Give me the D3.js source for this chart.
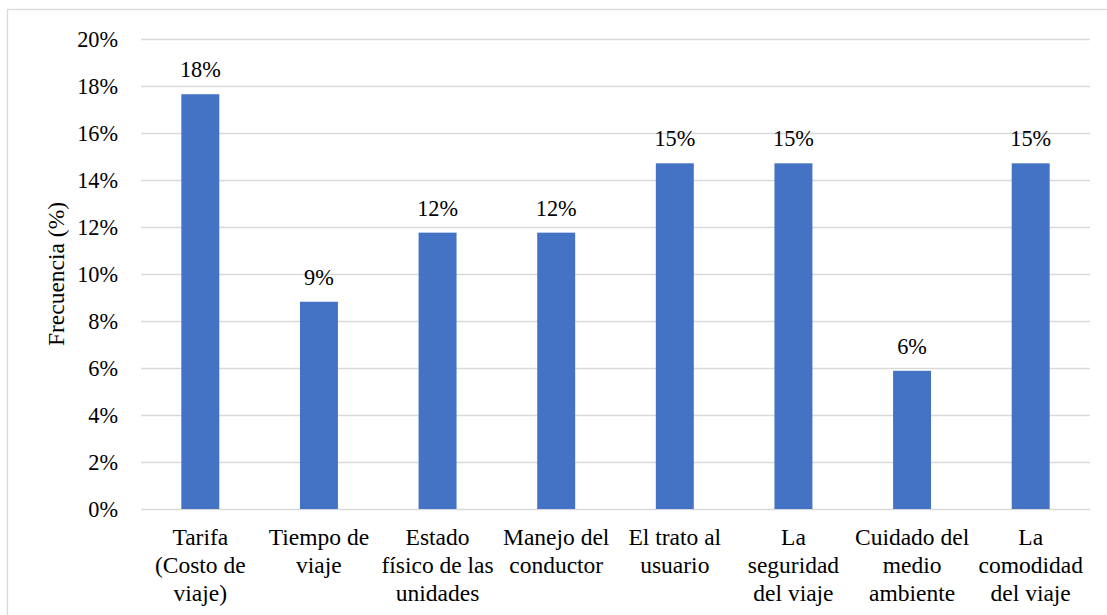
<!DOCTYPE html>
<html>
<head>
<meta charset="utf-8">
<script src="https://cdn.jsdelivr.net/npm/d3@7"></script>
<style>
  html, body { margin: 0; padding: 0; background: #fff; }
  svg { display: block; }
</style>
</head>
<body>
<svg id="chart" width="1107" height="615"></svg>
<script>
// Factores valorados del servicio (n = 34 respuestas)
const categories = [
  ["Tarifa", "(Costo de", "viaje)"],
  ["Tiempo de", "viaje"],
  ["Estado", "físico de las", "unidades"],
  ["Manejo del", "conductor"],
  ["El trato al", "usuario"],
  ["La", "seguridad", "del viaje"],
  ["Cuidado del", "medio", "ambiente"],
  ["La", "comodidad", "del viaje"]
];
const frequencies = [17.65, 8.82, 11.76, 11.76, 14.71, 14.71, 5.88, 14.71];
const yTicks = [0, 2, 4, 6, 8, 10, 12, 14, 16, 18, 20];
const yTitle = "Frecuencia (%)";

const FONT = "Liberation Serif";
const svg = d3.select("#chart");
const W = 1107, H = 615;
const plot = { left: 141, right: 1090, top: 39, bottom: 509 };
const numSize = 22.3;   // numbers (ticks, value labels)
const textSize = 23.5;  // category labels and axis title

// outer frame of the chart area
svg.append("rect")
  .attr("x", 7.5).attr("y", 9.5)
  .attr("width", W + 10).attr("height", H + 10)
  .attr("fill", "none").attr("stroke", "#d9d9d9").attr("stroke-width", 1.3);

const ids = categories.map((c, i) => i);
const x = d3.scaleBand()
  .domain(ids)
  .range([plot.left, plot.right])
  .paddingInner(0.68)
  .paddingOuter(0.34);

const y = d3.scaleLinear()
  .domain([0, 20])
  .range([plot.bottom, plot.top]);

// horizontal gridlines and percentage ticks
const yAxis = d3.axisLeft(y)
  .tickValues(yTicks)
  .tickSize(-(plot.right - plot.left))
  .tickPadding(23)
  .tickFormat(d => d + "%");

const gy = svg.append("g")
  .attr("transform", `translate(${plot.left},0)`)
  .call(yAxis)
  .attr("font-family", FONT)
  .attr("font-size", numSize);
gy.select(".domain").remove();
gy.selectAll(".tick line").attr("stroke", "#d9d9d9").attr("stroke-width", 1.3);
gy.selectAll(".tick text")
  .attr("font-family", FONT)
  .attr("font-size", numSize)
  .attr("fill", "#000");

// bars
svg.append("g").selectAll("rect")
  .data(frequencies)
  .join("rect")
  .attr("x", (d, i) => x(i))
  .attr("width", x.bandwidth())
  .attr("y", d => y(d))
  .attr("height", d => y(0) - y(d))
  .attr("fill", "#4472c4");

// value labels above each bar
svg.append("g").selectAll("text")
  .data(frequencies)
  .join("text")
  .attr("x", (d, i) => x(i) + x.bandwidth() / 2)
  .attr("y", d => y(d) - 17)
  .attr("text-anchor", "middle")
  .attr("font-family", FONT)
  .attr("font-size", numSize)
  .attr("fill", "#000")
  .text(d => Math.round(d) + "%");

// multi-line category labels
const lineH = 28;
const cat = svg.append("g").selectAll("text")
  .data(categories)
  .join("text")
  .attr("text-anchor", "middle")
  .attr("font-family", FONT)
  .attr("font-size", textSize)
  .attr("fill", "#000")
  .attr("x", (d, i) => x(i) + x.bandwidth() / 2)
  .attr("y", plot.bottom + 36);
cat.selectAll("tspan")
  .data((d, i) => d.map(t => ({ t, i })))
  .join("tspan")
  .attr("x", d => x(d.i) + x.bandwidth() / 2)
  .attr("dy", (d, j) => j === 0 ? 0 : lineH)
  .text(d => d.t);

// y axis title
svg.append("text")
  .attr("transform", `translate(64,${(plot.top + plot.bottom) / 2}) rotate(-90)`)
  .attr("text-anchor", "middle")
  .attr("font-family", FONT)
  .attr("font-size", textSize)
  .attr("fill", "#000")
  .text(yTitle);
</script>
</body>
</html>
